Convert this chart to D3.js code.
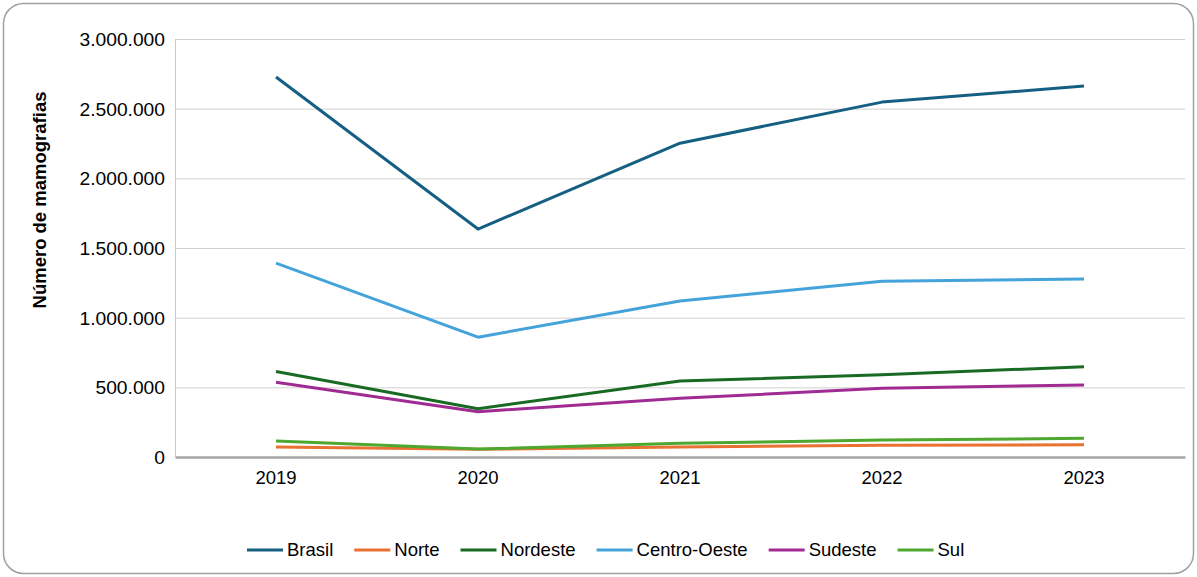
<!DOCTYPE html>
<html><head><meta charset="utf-8">
<script src="https://cdn.jsdelivr.net/npm/d3@7"></script>
<style>body{margin:0;background:#fff}svg{display:block;font-family:"Liberation Sans",Arial,sans-serif}</style>
</head><body>
<svg id="c" width="1197" height="577"></svg>
<script>
const years = ["2019","2020","2021","2022","2023"];
const seriesNames = ["Brasil","Norte","Nordeste","Centro-Oeste","Sudeste","Sul"];
const seriesColors = ["#156082","#E97132","#196B24","#45A3DB","#A02B93","#4EA72E"];
const brasil = [2727000,1636000,2252000,2547000,2662000];
const norte = [72000,55000,72000,84000,88000];
const nordeste = [614000,347000,545000,590000,648000];
const centroOeste = [1392000,860000,1120000,1262000,1277000];
const sudeste = [536000,325000,421000,493000,517000];
const sul = [115000,57000,98000,122000,134000];
const yTicks = [0,500000,1000000,1500000,2000000,2500000,3000000];
const yTitle = "Número de mamografias";

const values = [brasil,norte,nordeste,centroOeste,sudeste,sul];
const svg = d3.select("#c");
svg.append("rect").attr("x",3.5).attr("y",3.5).attr("width",1190).attr("height",570)
  .attr("rx",20).attr("fill","#fff").attr("stroke","#a0a0a0").attr("stroke-width",1.5);

const L=175,R=1185,T=39,B=457;
const x = d3.scaleBand().domain(years).range([L,R]);
const y = d3.scaleLinear().domain([0,3000000]).range([B,T]);
const fmt = v => d3.format(",")(v).replace(/,/g,".");
const FS = 18.5;

// grid
svg.append("g").selectAll("line").data(yTicks.filter(d=>d>0)).join("line")
  .attr("x1",L).attr("x2",R).attr("y1",d=>y(d)+0.5).attr("y2",d=>y(d)+0.5)
  .attr("stroke","#d0d0d0").attr("stroke-width",1);
svg.append("line").attr("x1",L+0.5).attr("x2",L+0.5).attr("y1",T).attr("y2",B)
  .attr("stroke","#c8c8c8");

// y axis labels
const ya = svg.append("g").attr("transform",`translate(${L-10},0)`)
  .call(d3.axisLeft(y).tickValues(yTicks).tickFormat(fmt).tickSize(0).tickPadding(0));
ya.select(".domain").remove();
ya.selectAll("text").attr("font-size",FS).attr("fill","#000").attr("font-family","Liberation Sans, Arial").attr("dy","0.35em")
  .attr("transform","scale(1.04,1)");

// x axis
const xa = svg.append("g").attr("transform",`translate(0,${B})`)
  .call(d3.axisBottom(x).tickSize(0).tickPadding(14));
xa.select(".domain").attr("stroke","#a6a6a6").attr("stroke-width",2.5);
xa.selectAll("text").attr("font-size",FS).attr("fill","#000").attr("font-family","Liberation Sans, Arial");

// title
svg.append("text").attr("transform","translate(46,200) rotate(-90)")
  .attr("text-anchor","middle").attr("font-weight","bold").attr("font-size",18.5)
  .text(yTitle);

// lines
const line = d3.line().x((d,i)=>x(years[i])+x.bandwidth()/2).y(d=>y(d));
const order = [1,5,4,2,3,0];
order.forEach(i=>{
  svg.append("path").datum(values[i]).attr("d",line).attr("fill","none")
    .attr("stroke",seriesColors[i]).attr("stroke-width",3).attr("stroke-linejoin","round");
});

// legend
const lg = svg.append("g").attr("transform","translate(247,550)");
let cx = 0;
seriesNames.forEach((n,i)=>{
  const g = lg.append("g").attr("transform",`translate(${cx},0)`);
  g.append("line").attr("x1",0).attr("x2",36).attr("y1",0).attr("y2",0)
    .attr("stroke",seriesColors[i]).attr("stroke-width",3);
  const t = g.append("text").attr("x",40).attr("y",0).attr("dy","0.35em")
    .attr("font-size",FS).text(n);
  cx += 40 + t.node().getComputedTextLength() + 21;
});
</script>
</body></html>
